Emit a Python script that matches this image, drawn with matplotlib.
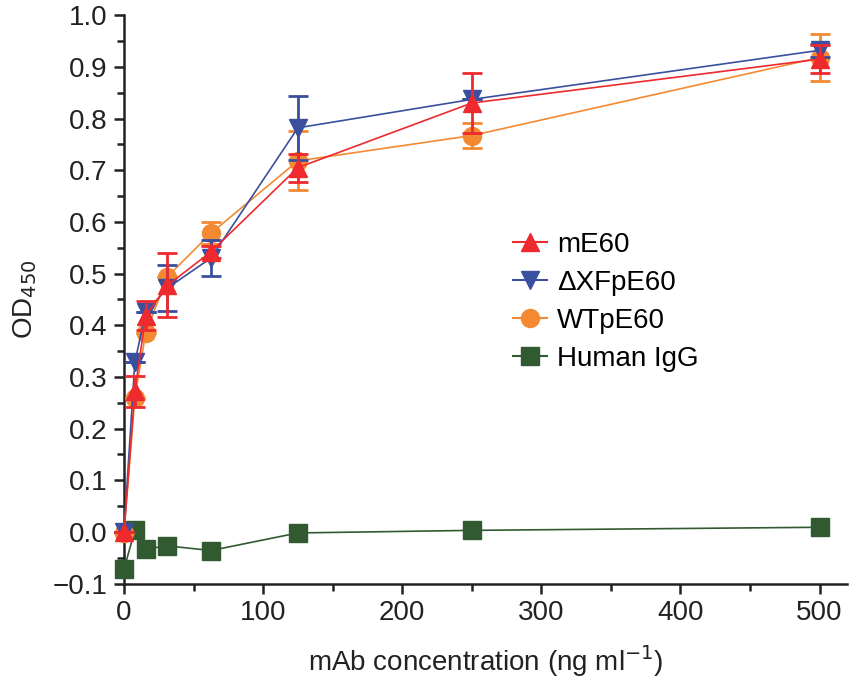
import matplotlib
matplotlib.use("Agg")
import matplotlib.pyplot as plt
from matplotlib.lines import Line2D
import numpy as np

plt.rcParams['font.family'] = ['Liberation Sans', 'DejaVu Sans']

# mAb concentrations (ng/ml)
conc = [0, 7.8, 15.6, 31.25, 62.5, 125, 250, 500]

me60 = [0.0, 0.272, 0.418, 0.477, 0.542, 0.705, 0.830, 0.915]
me60_err = [0.0, 0.03, 0.028, 0.062, 0.012, 0.027, 0.058, 0.027]

dxf = [0.0, 0.328, 0.425, 0.472, 0.530, 0.782, 0.837, 0.932]
dxf_err = [0.0, 0.0, 0.0, 0.045, 0.035, 0.062, 0.0, 0.012]

wt = [-0.003, 0.260, 0.385, 0.494, 0.578, 0.718, 0.767, 0.918]
wt_err = [0.0, 0.0, 0.0, 0.0, 0.021, 0.057, 0.024, 0.045]

igg = [-0.072, 0.003, -0.033, -0.027, -0.036, -0.002, 0.003, 0.009]

names = ['mE60', '\u0394XFpE60', 'WTpE60', 'Human IgG']

c_red = '#ee2a2e'
c_blue = '#3a4f9e'
c_orange = '#f38a32'
c_green = '#325a30'

fig = plt.figure(figsize=(8.51, 6.84), dpi=100)
ax = fig.add_axes([0.1457, 0.1468, 0.85, 0.831])

kw = dict(lw=1.2, capsize=7, capthick=2, elinewidth=2, clip_on=False)
ax.plot(conc, igg, 's-', color=c_green, ms=13, lw=1.2, clip_on=False, zorder=3)
h_wt = ax.errorbar(conc, wt, yerr=wt_err, fmt='o-', color=c_orange, ms=13,
                   zorder=4, **kw)
h_dxf = ax.errorbar(conc, dxf, yerr=dxf_err, fmt='v-', color=c_blue, ms=13,
                    zorder=5, **kw)
h_me = ax.errorbar(conc, me60, yerr=me60_err, fmt='^-', color=c_red, ms=13,
                   zorder=6, **kw)
for h in (h_wt, h_dxf, h_me):
    for art in h[1] + h[2]:
        art.set_clip_on(False)

ax.set_xlim(0, 520)
ax.set_ylim(-0.1, 1.0)
ax.set_xticks(np.arange(0, 501, 100))
ax.set_xticks(np.arange(50, 501, 100), minor=True)
ax.set_yticks(np.arange(-0.1, 1.01, 0.1))
ax.set_yticks(np.arange(-0.05, 1.0, 0.1), minor=True)
ax.set_yticklabels(['\u22120.1'] + ['%.1f' % v for v in np.arange(0, 1.01, 0.1)])

for s in ('top', 'right'):
    ax.spines[s].set_visible(False)
for s in ('left', 'bottom'):
    ax.spines[s].set_linewidth(1.8)
    ax.spines[s].set_color('#222222')
ax.tick_params(which='major', length=7, width=1.8, labelsize=20,
               colors='#222222', pad=5)
ax.tick_params(which='minor', length=5, width=1.8, colors='#222222')

ax.set_xlabel('mAb concentration (ng ml$^{-1}$)', fontsize=20, color='#222222',
              labelpad=12)
ax.set_ylabel('OD$_{450}$', fontsize=20, color='#222222', labelpad=10)

leg_handles = [
    Line2D([], [], color=c_red, marker='^', ms=13, lw=1.5),
    Line2D([], [], color=c_blue, marker='v', ms=13, lw=1.5),
    Line2D([], [], color=c_orange, marker='o', ms=13, lw=1.5),
    Line2D([], [], color=c_green, marker='s', ms=13, lw=1.5),
]
ax.legend(leg_handles, names, loc='upper left',
          bbox_to_anchor=(0.603, 0.661), bbox_transform=fig.transFigure,
          frameon=False, fontsize=20, handlelength=1.22, handletextpad=0.36,
          labelspacing=0.43, borderpad=0, borderaxespad=0)

fig.savefig('out.png', dpi=100)
